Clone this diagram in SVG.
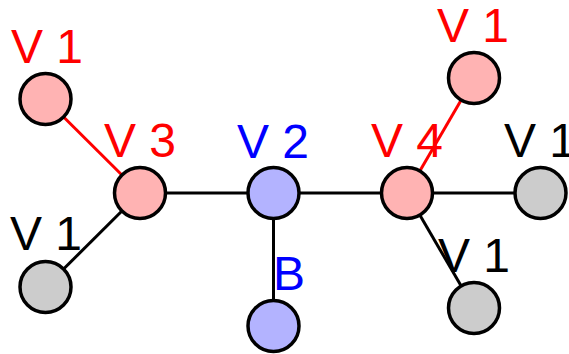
<svg xmlns="http://www.w3.org/2000/svg" width="569" height="354" viewBox="0 0 569 354">
<style>
.e{stroke:#000;stroke-width:3;fill:none}
.er{stroke:#f00;stroke-width:3;fill:none}
.n{stroke:#000;stroke-width:3.5}
.p{fill:#ffb3b3}.b{fill:#b3b3ff}.g{fill:#cccccc}
text{font-family:"Liberation Sans",Arial,sans-serif;font-size:48px}
.tr{fill:#f00}.tb{fill:#00f}.tk{fill:#000}
</style>
<rect width="569" height="354" fill="#fff"/>
<g id="labels">
<text class="tr" x="11" y="63">V 1</text>
<text class="tr" x="104" y="157">V 3</text>
<text class="tk" x="10" y="250">V 1</text>
<text class="tb" x="237" y="158">V 2</text>
<text class="tb" x="273" y="290">B</text>
<text class="tr" x="371" y="157">V 4</text>
<text class="tr" x="437" y="42">V 1</text>
<text class="tk" x="504" y="157">V 1</text>
<text class="tk" x="438" y="272">V 1</text>
</g>
<g id="connectors">
<line class="er" x1="45.5" y1="99" x2="140" y2="193"/>
<line class="e" x1="45.5" y1="287" x2="140" y2="193"/>
<line class="e" x1="140" y1="193" x2="273.5" y2="193"/>
<line class="e" x1="273.5" y1="193" x2="273.5" y2="326"/>
<line class="e" x1="273.5" y1="193" x2="407" y2="193"/>
<line class="er" x1="407" y1="193" x2="474" y2="78"/>
<line class="e" x1="407" y1="193" x2="540.5" y2="193"/>
<line class="e" x1="407" y1="193" x2="474" y2="308"/>
</g>
<g id="n-v1a"><circle class="n p" cx="45.5" cy="99" r="25.5"/></g>
<g id="n-v3"><circle class="n p" cx="140" cy="193" r="25.5"/></g>
<g id="n-v1b"><circle class="n g" cx="45.5" cy="287" r="25.5"/></g>
<g id="n-v2"><circle class="n b" cx="273.5" cy="193" r="25.5"/></g>
<g id="n-b"><circle class="n b" cx="273.5" cy="326" r="25.5"/></g>
<g id="n-v4"><circle class="n p" cx="407" cy="193" r="25.5"/></g>
<g id="n-v1c"><circle class="n p" cx="474" cy="78" r="25.5"/></g>
<g id="n-v1d"><circle class="n g" cx="540.5" cy="193" r="25.5"/></g>
<g id="n-v1e"><circle class="n g" cx="474" cy="308" r="25.5"/></g>
</svg>
